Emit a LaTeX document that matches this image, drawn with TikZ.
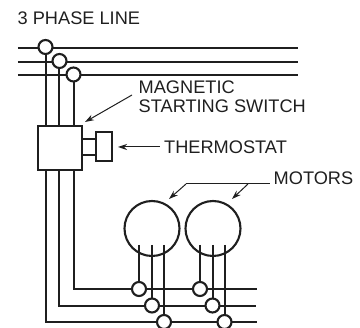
\documentclass[tikz,border=0pt]{standalone}
\usepackage{fontspec}
\setmainfont{Liberation Sans}
\usetikzlibrary{arrows.meta}
\tikzset{
  wire/.style={line width=2pt,draw=black!88},
  thickwire/.style={line width=2pt,draw=black!88},
  lead/.style={line width=1pt,draw=black!88},
  leadarrow/.style={lead,-{Stealth[length=9pt,width=6pt]}},
  tap/.style={circle,draw=black!88,line width=2.1pt,fill=white,minimum size=14pt,inner sep=0pt},
  lbl/.style={inner sep=0pt,anchor=base west,font=\fontsize{18.2}{20}\selectfont,text=black!88},
  motor/.style={circle,draw=black!88,line width=2.1pt,minimum size=55pt,inner sep=0pt}
}
\begin{document}
\begin{tikzpicture}[x=1pt,y=-1pt]
\useasboundingbox (0,0) rectangle (360,328);
\clip (0,0) rectangle (360,328);
% free ends of the supply and load lines
\coordinate (a1) at (18,48); \coordinate (a2) at (298,48);
\coordinate (b1) at (18,62); \coordinate (b2) at (298,62);
\coordinate (c1) at (18,75); \coordinate (c2) at (298,75);
\coordinate (p1) at (46,322); \coordinate (p2) at (257,322);
\coordinate (q1) at (59,306); \coordinate (q2) at (256,306);
\coordinate (r1) at (74,289); \coordinate (r2) at (257,289);
\draw[wire] (a1) -- (a2);
\draw[wire] (b1) -- (b2);
\draw[wire] (c1) -- (c2);
% verticals
\draw[wire] (46,47) -- (46,126);
\draw[wire] (59,61) -- (59,126);
\draw[wire] (74,74) -- (74,126);
\draw[wire] (46,170) -- (p1) -- (p2);
\draw[wire] (59,170) -- (q1) -- (q2);
\draw[wire] (74,170) -- (r1) -- (r2);
\node[tap] (ta) at (45.5,47) {};
\node[tap] (tb) at (59.5,61) {};
\node[tap] (tc) at (73.5,74.5) {};
% switch and thermostat
\draw[thickwire] (38,126) rectangle (82,170);
\draw[wire] (82,139) -- (96,139);
\draw[wire] (82,155) -- (96,155);
\draw[thickwire,fill=white] (96,132) rectangle (112,161);
% motors
\node[motor] (m1) at (152,228.5) {};
\node[motor] (m2) at (213,228.5) {};
\draw[wire] (139,245) -- (139,289);
\draw[wire] (152,245) -- (152,306);
\draw[wire] (164,245) -- (164,322);
\draw[wire] (200,245) -- (200,289);
\draw[wire] (213,245) -- (213,306);
\draw[wire] (225,245) -- (225,322);
\node[tap] (t1) at (139,289) {};
\node[tap] (t2) at (152,305.5) {};
\node[tap] (t3) at (164,322) {};
\node[tap] (t4) at (200,289) {};
\node[tap] (t5) at (212.5,305.5) {};
\node[tap] (t6) at (224.5,322) {};
% labels
\node[lbl] (l0) at (17.5,25) {3 PHASE LINE};
\node[lbl] (l1) at (138.5,94) {MAGNETIC};
\node[lbl] (l2) at (138.5,113) {STARTING SWITCH};
\node[lbl] (l3) at (164,153.5) {THERMOSTAT};
\node[lbl] (l4) at (273.5,185) {MOTORS};
% leaders
\draw[leadarrow] (132,95) -- (85,122);
\draw[leadarrow] (160,147) -- (118,147);
\coordinate (j) at (186,184);
\coordinate (k) at (248,184);
\draw[lead] (270,184) -- (j);
\draw[leadarrow] (j) -- (169,199);
\draw[leadarrow] (k) -- (232,199);
\end{tikzpicture}
\end{document}
